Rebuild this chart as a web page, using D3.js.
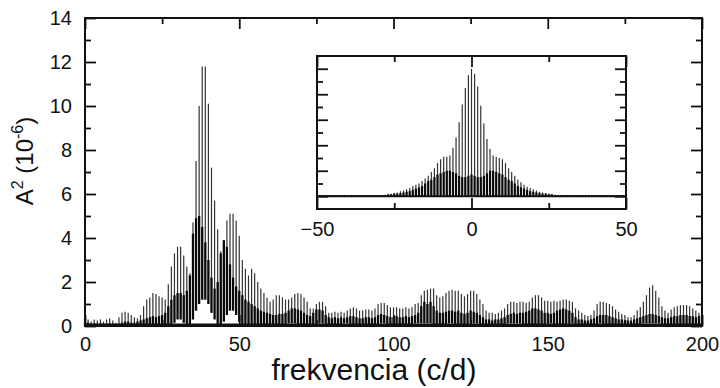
<!DOCTYPE html>
<html>
<head>
<meta charset="utf-8">
<script src="https://cdn.jsdelivr.net/npm/d3@7"></script>
<style>
  html, body { margin: 0; padding: 0; background: #fff; }
  svg { display: block; }
  text { font-family: Arial, "Liberation Sans", sans-serif; fill: #111; }
</style>
</head>
<body>
<svg id="chart" width="720" height="388"></svg>
<script>
// ---------- DATA ----------
// Main amplitude spectrum, one value per alias line (frequency step 1 c/d, 0..200)
const ampMax = [
  0.25,0.3,0.2,0.3,0.25,0.3,0.2,0.3,0.35,0.25,
  0.15,0.4,0.6,0.65,0.6,0.5,0.4,0.35,0.5,0.9,
  1.2,1.3,1.5,1.45,1.35,1.3,1.2,1.9,2.7,3.3,
  3.6,3.6,3.2,2.7,2.4,4.7,7.5,10.0,11.8,11.8,
  10.1,7.2,5.7,4.4,3.4,3.9,4.8,5.1,5.1,4.8,
  4.1,3.0,2.6,2.3,2.6,2.4,2.0,1.7,1.5,1.3,
  1.1,1.2,1.4,1.4,1.3,1.2,1.2,1.3,1.45,1.5,
  1.45,1.3,1.1,0.8,0.8,1.0,1.1,1.1,0.9,0.6,
  0.6,0.65,0.6,0.65,0.6,0.7,0.8,0.85,0.8,0.7,
  0.7,0.75,0.75,0.7,0.8,1.0,1.05,1.05,0.95,0.85,
  0.85,0.85,0.8,0.8,0.85,0.8,0.85,1.0,1.05,1.4,
  1.6,1.65,1.7,1.7,1.4,1.3,1.35,1.5,1.6,1.65,
  1.6,1.6,1.45,1.35,1.45,1.6,1.6,1.45,1.2,1.0,
  0.7,0.6,0.6,0.55,0.6,0.7,0.8,1.0,1.1,1.1,
  1.05,1.1,1.1,1.05,1.1,1.3,1.4,1.4,1.3,1.15,
  1.15,1.1,1.15,1.1,1.15,1.2,1.2,1.15,1.1,0.8,
  0.7,0.6,0.5,0.45,0.5,0.7,1.0,1.1,1.1,1.05,
  1.0,0.9,0.75,0.65,0.55,0.5,0.4,0.4,0.5,0.7,
  0.85,1.1,1.4,1.75,1.85,1.6,1.3,0.9,0.7,0.6,
  0.75,0.85,0.9,0.95,0.95,0.95,0.9,0.8,0.7,0.6,
  0.5
];
// Lower end of each alias line (white gaps at the bottom)
const ampMin = [
  0,0,0,0,0,0,0,0,0,0,
  0,0,0,0,0,0,0,0,0,0,
  0,0,0,0,0,0,0,0,0,0.15,
  0.3,0.3,0.15,0,0,0.3,0.7,1.0,1.2,1.2,
  1.0,0.6,0.3,0,0,0.2,0.5,0.7,0.7,0.5,
  0.2,0,0,0,0,0,0,0,0,0,
  0,0,0,0,0,0,0.12,0.12,0.12,0,
  0,0,0,0,0,0,0.12,0.12,0,0,
  0,0,0,0,0.12,0.12,0,0,0,0,
  0,0,0,0,0,0,0.12,0.12,0,0,
  0,0,0,0,0,0,0,0.12,0.12,0.12,
  0.12,0.12,0.12,0,0,0,0,0,0.12,0.12,
  0,0,0,0,0,0.12,0.12,0.12,0,0,
  0,0,0,0,0,0,0,0.12,0.12,0.12,
  0.12,0.12,0,0,0,0,0,0,0,0,
  0.12,0.12,0,0,0,0,0,0,0.12,0,
  0,0,0,0,0,0,0,0.12,0,0,
  0,0,0,0,0,0,0,0,0,0,
  0,0.12,0.12,0.12,0.12,0.12,0.12,0,0,0,
  0,0,0,0,0,0,0,0,0,0,
  0
];
// Top of the dense dark band under the lines
const bandTop = [
  0.12,0.15,0.1,0.12,0.1,0.12,0.1,0.1,0.12,0.1,
  0.08,0.1,0.15,0.2,0.2,0.15,0.15,0.2,0.25,0.3,
  0.35,0.4,0.45,0.4,0.45,0.5,0.6,0.9,1.2,1.4,
  1.5,1.5,1.4,1.6,2.3,4.2,4.9,5.0,4.5,3.8,
  3.0,2.2,1.7,2.0,3.3,3.9,3.6,2.8,2.2,1.8,
  1.6,1.4,1.2,1.1,1.0,0.9,0.8,0.7,0.65,0.6,
  0.55,0.5,0.5,0.55,0.55,0.6,0.7,0.8,0.8,0.75,
  0.7,0.6,0.5,0.45,0.6,0.75,0.75,0.7,0.5,0.4,
  0.35,0.4,0.35,0.4,0.35,0.4,0.45,0.45,0.4,0.35,
  0.35,0.4,0.4,0.35,0.4,0.5,0.55,0.5,0.45,0.4,
  0.4,0.45,0.4,0.4,0.45,0.4,0.45,0.5,0.6,0.9,
  1.1,1.0,1.1,0.9,0.7,0.6,0.6,0.65,0.7,0.7,
  0.65,0.7,0.6,0.55,0.6,0.7,0.65,0.6,0.5,0.4,
  0.3,0.3,0.25,0.3,0.3,0.35,0.4,0.5,0.55,0.6,
  0.55,0.6,0.6,0.65,0.7,0.8,0.8,0.75,0.7,0.6,
  0.6,0.55,0.6,0.7,0.75,0.8,0.75,0.7,0.6,0.4,
  0.3,0.3,0.25,0.25,0.3,0.35,0.45,0.5,0.5,0.5,
  0.45,0.4,0.35,0.3,0.3,0.25,0.25,0.25,0.3,0.35,
  0.4,0.45,0.5,0.55,0.55,0.5,0.45,0.4,0.35,0.35,
  0.4,0.45,0.45,0.5,0.5,0.5,0.45,0.45,0.4,0.45,
  0.5
];
const freqStart = 0, freqStep = 1;

// Inset: spectral window, -50..50 c/d, step 1
const windowMax = [
  0.005,0.005,0.005,0.005,0.005,0.005,0.005,0.005,0.005,0.005,
  0.005,0.005,0.005,0.005,0.005,0.005,0.005,0.005,0.005,0.005,
  0.008,0.01,0.012,0.015,0.02,0.025,0.03,0.04,0.045,0.055,
  0.065,0.08,0.09,0.1,0.12,0.14,0.16,0.19,0.22,0.26,
  0.29,0.31,0.31,0.32,0.38,0.46,0.58,0.72,0.85,0.95,
  1.0,
  0.96,0.86,0.71,0.57,0.45,0.37,0.32,0.31,0.3,0.29,
  0.26,0.22,0.19,0.16,0.13,0.11,0.09,0.075,0.065,0.055,
  0.045,0.035,0.03,0.025,0.02,0.015,0.012,0.01,0.005,0.005,
  0.005,0.005,0.005,0.005,0.005,0.005,0.005,0.005,0.005,0.005,
  0.005,0.005,0.005,0.005,0.005,0.005,0.005,0.005,0.005,0.005
];
const windowBand = [
  0.01,0.01,0.01,0.01,0.01,0.01,0.01,0.01,0.01,0.01,
  0.01,0.01,0.01,0.01,0.01,0.01,0.01,0.01,0.01,0.01,
  0.01,0.01,0.01,0.015,0.015,0.02,0.02,0.025,0.03,0.035,
  0.04,0.05,0.06,0.07,0.08,0.1,0.12,0.13,0.15,0.17,
  0.18,0.19,0.2,0.2,0.19,0.18,0.16,0.15,0.15,0.16,
  0.17,
  0.16,0.15,0.15,0.16,0.18,0.2,0.2,0.19,0.18,0.17,
  0.15,0.13,0.12,0.1,0.08,0.07,0.06,0.05,0.04,0.035,
  0.03,0.025,0.02,0.02,0.015,0.015,0.01,0.01,0.01,0.01,
  0.01,0.01,0.01,0.01,0.01,0.01,0.01,0.01,0.01,0.01,
  0.01,0.01,0.01,0.01,0.01,0.01,0.01,0.01,0.01,0.01
];
const windowStart = -50, windowStep = 1;

const mainXTicks = [0, 50, 100, 150, 200];
const mainXMinor = [25, 75, 125, 175];
const mainYTicks = [0, 2, 4, 6, 8, 10, 12, 14];
const mainYMinor = [1, 3, 5, 7, 9, 11, 13];
const insetXTicks = [-50, 0, 50];
const insetXMinor = [-25, 25];
const insetYMajor = [0, 0.2, 0.4, 0.6, 0.8, 1.0];
const insetYMinor = [0.1, 0.3, 0.5, 0.7, 0.9];

// ---------- DRAWING ----------
const svg = d3.select("#chart");

const main = { left: 85, right: 702, top: 18, bottom: 326 };
const x = d3.scaleLinear().domain([0, 200]).range([main.left, main.right]);
const y = d3.scaleLinear().domain([0, 14]).range([main.bottom, main.top]);

const spec = ampMax.map((v, i) => ({ f: freqStart + i * freqStep, hi: v, lo: ampMin[i], band: bandTop[i] }));

const gMain = svg.append("g");
// thin alias lines (full height)
gMain.selectAll("line.spec").data(spec).join("line")
  .attr("class", "spec")
  .attr("x1", d => x(d.f)).attr("x2", d => x(d.f))
  .attr("y1", d => y(d.lo)).attr("y2", d => y(d.hi))
  .attr("stroke", "#333").attr("stroke-width", 1.2);
// dense dark band: thick short strokes under each line
gMain.selectAll("line.band").data(spec).join("line")
  .attr("class", "band")
  .attr("x1", d => x(d.f)).attr("x2", d => x(d.f))
  .attr("y1", d => y(d.lo)).attr("y2", d => y(Math.max(d.band, d.lo)))
  .attr("stroke", "#0a0a0a").attr("stroke-width", 2.3);
// dark baseline
gMain.append("line")
  .attr("x1", main.left).attr("x2", main.right)
  .attr("y1", y(0) - 1.5).attr("y2", y(0) - 1.5)
  .attr("stroke", "#111").attr("stroke-width", 2);

function styleAxis(g) {
  g.select(".domain").remove();
  g.selectAll(".tick line").attr("stroke", "#111").attr("stroke-width", 1.8);
  g.selectAll(".tick text").attr("font-size", 20).attr("fill", "#111");
}

// main axes
svg.append("g").attr("transform", `translate(0,${main.bottom})`)
  .call(d3.axisBottom(x).tickValues(mainXTicks).tickSizeInner(-11).tickSizeOuter(0).tickPadding(11))
  .call(styleAxis);
svg.append("g").attr("transform", `translate(0,${main.bottom})`)
  .call(d3.axisBottom(x).tickValues(mainXMinor).tickSizeInner(-6).tickSizeOuter(0).tickFormat(""))
  .call(styleAxis);
svg.append("g").attr("transform", `translate(0,${main.top})`)
  .call(d3.axisTop(x).tickValues(mainXTicks).tickSizeInner(-11).tickSizeOuter(0).tickFormat(""))
  .call(styleAxis);
svg.append("g").attr("transform", `translate(0,${main.top})`)
  .call(d3.axisTop(x).tickValues(mainXMinor).tickSizeInner(-6).tickSizeOuter(0).tickFormat(""))
  .call(styleAxis);
svg.append("g").attr("transform", `translate(${main.left},0)`)
  .call(d3.axisLeft(y).tickValues(mainYTicks).tickSizeInner(-11).tickSizeOuter(0).tickPadding(13))
  .call(styleAxis);
svg.append("g").attr("transform", `translate(${main.left},0)`)
  .call(d3.axisLeft(y).tickValues(mainYMinor).tickSizeInner(-6).tickSizeOuter(0).tickFormat(""))
  .call(styleAxis);
svg.append("g").attr("transform", `translate(${main.right},0)`)
  .call(d3.axisRight(y).tickValues(mainYTicks).tickSizeInner(-11).tickSizeOuter(0).tickFormat(""))
  .call(styleAxis);
svg.append("g").attr("transform", `translate(${main.right},0)`)
  .call(d3.axisRight(y).tickValues(mainYMinor).tickSizeInner(-6).tickSizeOuter(0).tickFormat(""))
  .call(styleAxis);

svg.append("rect")
  .attr("x", main.left).attr("y", main.top)
  .attr("width", main.right - main.left).attr("height", main.bottom - main.top)
  .attr("fill", "none").attr("stroke", "#111").attr("stroke-width", 2);

// axis titles
svg.append("text")
  .attr("x", 374).attr("y", 380)
  .attr("text-anchor", "middle").attr("font-size", 30)
  .text("frekvencia (c/d)");

const yt = svg.append("text")
  .attr("transform", "translate(33,161) rotate(-90)")
  .attr("text-anchor", "middle").attr("font-size", 24);
yt.append("tspan").text("A");
yt.append("tspan").attr("font-size", 16).attr("dy", -10).text("2");
yt.append("tspan").attr("dy", 10).text(" (10");
yt.append("tspan").attr("font-size", 16).attr("dy", -10).text("-6");
yt.append("tspan").attr("dy", 10).text(")");

// ---------- INSET ----------
const ins = { left: 317, right: 626, top: 56, bottom: 209 };
const xi = d3.scaleLinear().domain([-50, 50]).range([ins.left, ins.right]);
const yi = d3.scaleLinear().domain([-0.1, 1.1]).range([ins.bottom, ins.top]);

svg.append("rect")
  .attr("x", ins.left).attr("y", ins.top)
  .attr("width", ins.right - ins.left).attr("height", ins.bottom - ins.top)
  .attr("fill", "#fff");

const win = windowMax.map((v, i) => ({ f: windowStart + i * windowStep, hi: v, band: windowBand[i] }));
const gIns = svg.append("g");
gIns.selectAll("line.win").data(win).join("line")
  .attr("class", "win")
  .attr("x1", d => xi(d.f)).attr("x2", d => xi(d.f))
  .attr("y1", yi(0)).attr("y2", d => yi(d.hi))
  .attr("stroke", "#333").attr("stroke-width", 1.2);
gIns.selectAll("line.wband").data(win).join("line")
  .attr("class", "wband")
  .attr("x1", d => xi(d.f)).attr("x2", d => xi(d.f))
  .attr("y1", yi(0)).attr("y2", d => yi(d.band))
  .attr("stroke", "#0a0a0a").attr("stroke-width", 2.2);
gIns.append("line")
  .attr("x1", ins.left).attr("x2", ins.right)
  .attr("y1", yi(0)).attr("y2", yi(0))
  .attr("stroke", "#111").attr("stroke-width", 1.8);

svg.append("g").attr("transform", `translate(0,${ins.bottom})`)
  .call(d3.axisBottom(xi).tickValues(insetXTicks).tickSizeInner(-11).tickSizeOuter(0).tickPadding(13))
  .call(styleAxis);
svg.append("g").attr("transform", `translate(0,${ins.bottom})`)
  .call(d3.axisBottom(xi).tickValues(insetXMinor).tickSizeInner(-6).tickSizeOuter(0).tickFormat(""))
  .call(styleAxis);
svg.append("g").attr("transform", `translate(0,${ins.top})`)
  .call(d3.axisTop(xi).tickValues(insetXTicks).tickSizeInner(-11).tickSizeOuter(0).tickFormat(""))
  .call(styleAxis);
svg.append("g").attr("transform", `translate(0,${ins.top})`)
  .call(d3.axisTop(xi).tickValues(insetXMinor).tickSizeInner(-6).tickSizeOuter(0).tickFormat(""))
  .call(styleAxis);
svg.append("g").attr("transform", `translate(${ins.left},0)`)
  .call(d3.axisLeft(yi).tickValues(insetYMajor).tickSizeInner(-11).tickSizeOuter(0).tickFormat(""))
  .call(styleAxis);
svg.append("g").attr("transform", `translate(${ins.left},0)`)
  .call(d3.axisLeft(yi).tickValues(insetYMinor).tickSizeInner(-6).tickSizeOuter(0).tickFormat(""))
  .call(styleAxis);
svg.append("g").attr("transform", `translate(${ins.right},0)`)
  .call(d3.axisRight(yi).tickValues(insetYMajor).tickSizeInner(-11).tickSizeOuter(0).tickFormat(""))
  .call(styleAxis);
svg.append("g").attr("transform", `translate(${ins.right},0)`)
  .call(d3.axisRight(yi).tickValues(insetYMinor).tickSizeInner(-6).tickSizeOuter(0).tickFormat(""))
  .call(styleAxis);

svg.append("rect")
  .attr("x", ins.left).attr("y", ins.top)
  .attr("width", ins.right - ins.left).attr("height", ins.bottom - ins.top)
  .attr("fill", "none").attr("stroke", "#111").attr("stroke-width", 2);
</script>
</body>
</html>
